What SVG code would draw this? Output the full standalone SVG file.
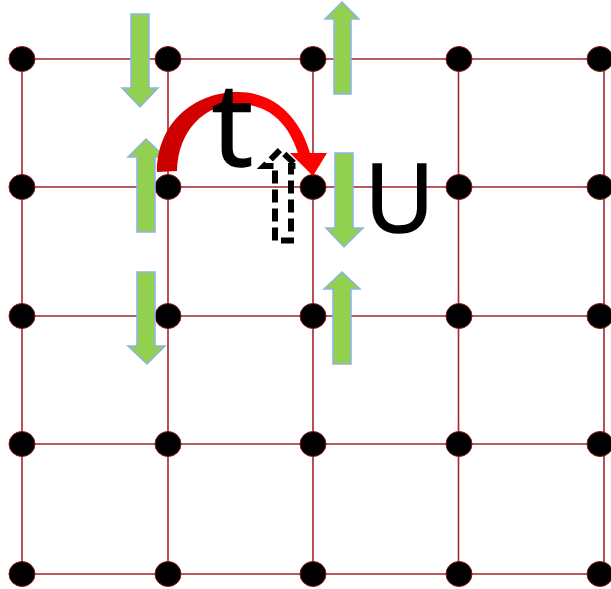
<svg xmlns="http://www.w3.org/2000/svg" width="611" height="589" viewBox="0 0 611 589">
<style>
.grid line{stroke:#A3262A;stroke-width:1.6}
.dot{fill:#000;stroke:#8B1A1A;stroke-width:1}
.spin{fill:#92D050;stroke:#8DB4E2;stroke-width:1.5}
.lbl{font-family:"Open Sans","Liberation Sans",sans-serif;fill:#000;stroke:#000;stroke-width:1.6;text-anchor:middle}
.dash{fill:none;stroke:#000;stroke-width:6;stroke-dasharray:13 6}
</style>
<defs>
<linearGradient id="rg" x1="0" y1="0" x2="1" y2="0">
<stop offset="0" stop-color="#C80000"/>
<stop offset="0.45" stop-color="#E00000"/>
<stop offset="0.6" stop-color="#FF0000"/>
<stop offset="1" stop-color="#FF0000"/>
</linearGradient>
</defs>
<rect width="611" height="589" fill="#fff"/>
<g id="connectors" class="grid">
<line x1="22" y1="59" x2="604" y2="59"/>
<line x1="22" y1="187" x2="604" y2="187"/>
<line x1="22" y1="316" x2="604" y2="316"/>
<line x1="22" y1="444" x2="604" y2="444"/>
<line x1="22" y1="574" x2="604" y2="574"/>
<line x1="22" y1="59" x2="22" y2="574"/>
<line x1="168" y1="59" x2="168" y2="574"/>
<line x1="313" y1="59" x2="313" y2="574"/>
<line x1="458.5" y1="59" x2="458.5" y2="574"/>
<line x1="604" y1="59" x2="604" y2="574"/>
</g>
<g id="nodes">
<g id="n00"><ellipse class="dot" cx="22" cy="59" rx="13" ry="12.5"/></g>
<g id="n01"><ellipse class="dot" cx="168" cy="59" rx="13" ry="12.5"/></g>
<g id="n02"><ellipse class="dot" cx="313" cy="59" rx="13" ry="12.5"/></g>
<g id="n03"><ellipse class="dot" cx="459" cy="59" rx="13" ry="12.5"/></g>
<g id="n04"><ellipse class="dot" cx="600" cy="59" rx="13" ry="12.5"/></g>
<g id="n10"><ellipse class="dot" cx="22" cy="187" rx="13" ry="12.5"/></g>
<g id="n11"><ellipse class="dot" cx="168" cy="187" rx="13" ry="12.5"/></g>
<g id="n12"><ellipse class="dot" cx="313" cy="187" rx="13" ry="12.5"/></g>
<g id="n13"><ellipse class="dot" cx="459" cy="187" rx="13" ry="12.5"/></g>
<g id="n14"><ellipse class="dot" cx="600" cy="187" rx="13" ry="12.5"/></g>
<g id="n20"><ellipse class="dot" cx="22" cy="316" rx="13" ry="12.5"/></g>
<g id="n21"><ellipse class="dot" cx="168" cy="316" rx="13" ry="12.5"/></g>
<g id="n22"><ellipse class="dot" cx="313" cy="316" rx="13" ry="12.5"/></g>
<g id="n23"><ellipse class="dot" cx="459" cy="316" rx="13" ry="12.5"/></g>
<g id="n24"><ellipse class="dot" cx="600" cy="316" rx="13" ry="12.5"/></g>
<g id="n30"><ellipse class="dot" cx="22" cy="444" rx="13" ry="12.5"/></g>
<g id="n31"><ellipse class="dot" cx="168" cy="444" rx="13" ry="12.5"/></g>
<g id="n32"><ellipse class="dot" cx="313" cy="444" rx="13" ry="12.5"/></g>
<g id="n33"><ellipse class="dot" cx="459" cy="444" rx="13" ry="12.5"/></g>
<g id="n34"><ellipse class="dot" cx="600" cy="444" rx="13" ry="12.5"/></g>
<g id="n40"><ellipse class="dot" cx="22" cy="574" rx="13" ry="12.5"/></g>
<g id="n41"><ellipse class="dot" cx="168" cy="574" rx="13" ry="12.5"/></g>
<g id="n42"><ellipse class="dot" cx="313" cy="574" rx="13" ry="12.5"/></g>
<g id="n43"><ellipse class="dot" cx="459" cy="574" rx="13" ry="12.5"/></g>
<g id="n44"><ellipse class="dot" cx="600" cy="574" rx="13" ry="12.5"/></g>
</g>
<g id="spins">
<path class="spin" d="M131,14 H149 V88 H158 L140,107 L122,88 H131 Z"/>
<path class="spin" d="M137,232 H155 V157 H165 L146,139 L128,157 H137 Z"/>
<path class="spin" d="M334,94 H351 V19 H359 L342,2 L325,19 H334 Z"/>
<path class="spin" d="M335,153 H353 V228 H363 L344,247 L326,228 H335 Z"/>
<path class="spin" d="M137,272 H155 V346 H165 L147,364 L128,346 H137 Z"/>
<path class="spin" d="M333,364 H351 V289 H360 L342,272 L324,289 H333 Z"/>
</g>
<g id="hop">
<path fill="url(#rg)" d="M157,172 C157,122 195,92 238,92 C275,92 300,118 310,153 L327,153 L313,176 L290,153 L298,153 C288,122 268,104 238,104 C205,104 178,130 177,171 Z"/>
</g>
<g id="dashed-spin">
<path class="dash" d="M275,240.5 V166 H264 L280,150 L297,166 H291 V240.5 Z"/>
</g>
<g id="labels">
<text class="lbl" x="232.5" y="166" font-size="116">t</text>
<text class="lbl" x="399.5" y="232" font-size="96">U</text>
</g>
</svg>
